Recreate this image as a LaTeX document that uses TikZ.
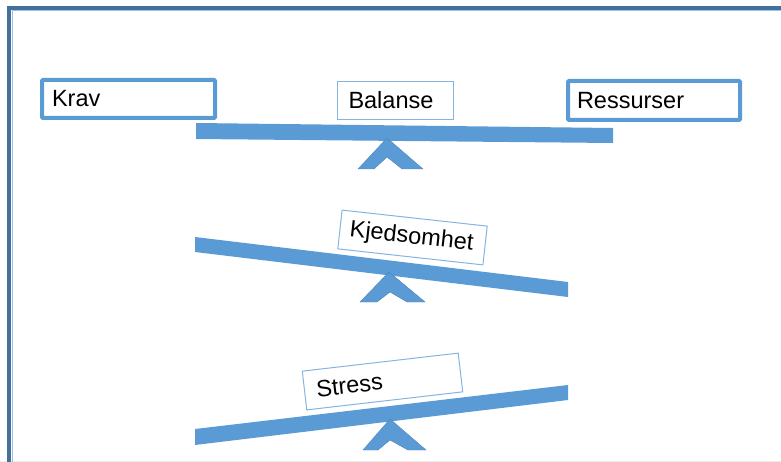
\documentclass[tikz,border=0pt]{standalone}
\usepackage{fontspec}
\setmainfont{Liberation Sans}
\definecolor{frameblue}{HTML}{41719C}
\definecolor{beamblue}{HTML}{5B9BD5}
\definecolor{thinblue}{HTML}{86B4E2}
\definecolor{innerblue}{HTML}{9DC3E6}
\definecolor{edgegray}{HTML}{EEEEEE}
\begin{document}
\begin{tikzpicture}[x=1pt,y=-1pt,
  lbl/.style={font=\fontsize{23.5}{27}\selectfont, align=left, inner ysep=0pt, fill=white},
  thickbox/.style={lbl, draw=beamblue, line width=4pt, rounded corners=1pt},
  thinbox/.style={lbl, draw=thinblue, line width=1pt},
  beam/.style={fill=beamblue},
  fulcrum/.style={fill=beamblue, draw=beamblue!85!black, line width=0.4pt}]
\useasboundingbox (0,0) rectangle (781,462);
% frame
\draw[edgegray, line width=1pt] (0,461.5) -- (781,461.5);
\draw[innerblue, line width=1pt] (12,462) -- (12,11) -- (781,11);
\draw[frameblue, line width=4pt] (9,462) -- (9,8) -- (781,8);
% beams
\fill[beam] (196,123) -- (613,128) -- (613,143) -- (196,139) -- cycle;
\fill[beam] (195,237) -- (568,282) -- (568,297) -- (195,252) -- cycle;
\fill[beam] (195,429) -- (568,385) -- (568,400) -- (195,445) -- cycle;
% fulcrums
\filldraw[fulcrum] (358,169) -- (387,138) -- (423,169) -- (402,169) -- (387,157) -- (374,169) -- cycle;
\filldraw[fulcrum] (360,302) -- (389,272) -- (425,302) -- (407,302) -- (390,292) -- (377,302) -- cycle;
\filldraw[fulcrum] (363,450) -- (390,419) -- (426,450) -- (408,450) -- (390,440) -- (378,450) -- cycle;
% labels
\node[thickbox, minimum width=173pt, minimum height=38pt, text width=153pt, inner xsep=10pt] (krav) at (128.5,99) {Krav};
\node[thinbox, minimum width=116pt, minimum height=38pt, text width=94pt, inner xsep=11pt] (balanse) at (395.5,100.5) {Balanse};
\node[thickbox, minimum width=172pt, minimum height=39pt, text width=154pt, inner xsep=9pt] (ressurser) at (654,100.5) {Ressurser};
\node[thinbox, rotate=-6.3, minimum width=146pt, minimum height=39pt, text width=126pt, inner xsep=10pt] (kjedsomhet) at (412.5,237.5) {Kjedsomhet};
\node[thinbox, rotate=6.6, minimum width=157pt, minimum height=39pt, text width=133pt, inner xsep=12pt] (stress) at (382.5,381.5) {Stress};
\end{tikzpicture}
\end{document}
